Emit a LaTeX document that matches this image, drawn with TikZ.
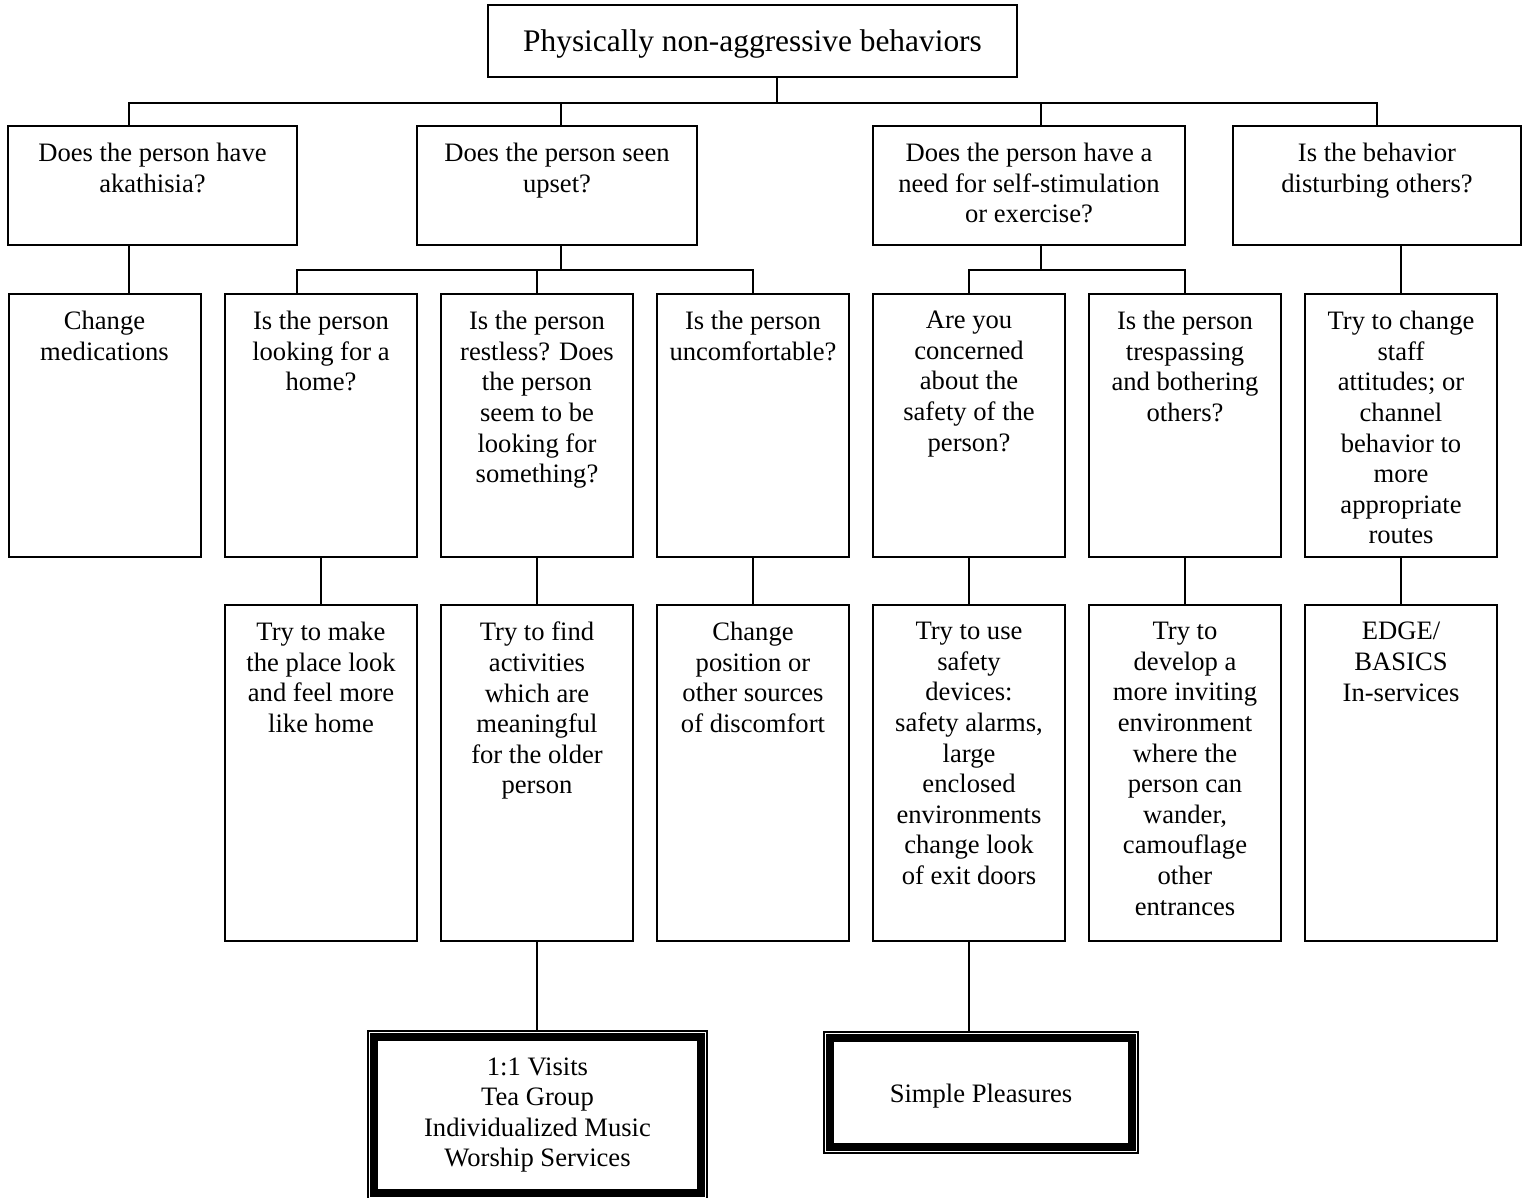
\documentclass[tikz,border=0pt]{standalone}
\usepackage{fontspec}
\setmainfont{Liberation Serif}
\usetikzlibrary{positioning}

\begin{document}
\begin{tikzpicture}[x=1pt, y=-1pt,
  box/.style={draw, line width=2pt, inner sep=0pt},
  qbox/.style={box, minimum width=192, minimum height=263},
  abox/.style={box, minimum width=192, minimum height=336},
  pbox/.style={draw, line width=1.2pt, inner sep=0pt, align=center,
               font=\fontsize{26.6}{30.6}\selectfont},
  txt/.style={align=center, inner sep=0pt, font=\fontsize{26.6}{30.6}\selectfont},
  wire/.style={line width=2pt}]
  \path[use as bounding box, fill=white] (0,0) rectangle (1528,1197);
  % top
  \node[box, minimum width=529, minimum height=72, text height=24pt, text depth=4pt,
        font=\fontsize{31.4}{36}\selectfont] (title) at (752.5,41)
        {Physically non-aggressive behaviors};
  % first questions
  \node[box, minimum width=289, minimum height=119] (akath) at (152.5,185.5) {};
  \node[txt, below=18pt of akath.north] {Does the person have\\akathisia?};
  \node[box, minimum width=280, minimum height=119] (upset) at (557,185.5) {};
  \node[txt, below=18pt of upset.north] {Does the person seen\\upset?};
  \node[box, minimum width=312, minimum height=119] (needs) at (1029,185.5) {};
  \node[txt, below=18pt of needs.north] {Does the person have a\\need for self-stimulation\\or exercise?};
  \node[box, minimum width=288, minimum height=119] (disturb) at (1377,185.5) {};
  \node[txt, below=18pt of disturb.north] {Is the behavior\\disturbing others?};
  % second row
  \foreach \n/\x/\t in {meds/104.5/{Change\\medications},
                        home/321/{Is the person\\looking for a\\home?},
                        restless/537/{Is the person\\restless? Does\\the person\\seem to be\\looking for\\something?},
                        uncomf/753/{Is the person\\uncomfortable?},
                        safety/969/{Are you\\concerned\\about the\\safety of the\\person?},
                        trespass/1185/{Is the person\\trespassing\\and bothering\\others?},
                        staff/1401/{Try to change\\staff\\attitudes; or\\channel\\behavior to\\more\\appropriate\\routes}}{
    \node[qbox] (\n) at (\x,425.5) {};
    \node[txt, below=18pt of \n.north] {\t};
  }
  % answers
  \foreach \n/\x/\t in {homelike/321/{Try to make\\the place look\\and feel more\\like home},
                        activity/537/{Try to find\\activities\\which are\\meaningful\\for the older\\person},
                        position/753/{Change\\position or\\other sources\\of discomfort},
                        devices/969/{Try to use\\safety\\devices:\\safety alarms,\\large\\enclosed\\environments\\change look\\of exit doors},
                        inviting/1185/{Try to\\develop a\\more inviting\\environment\\where the\\person can\\wander,\\camouflage\\other\\entrances},
                        edge/1401/{EDGE/\\BASICS\\In-services}}{
    \node[abox] (\n) at (\x,773) {};
    \node[txt, below=18pt of \n.north] {\t};
  }
  % programs
  \node[pbox, minimum width=339, minimum height=168] (visits) at (537.5,1115)
        {1:1 Visits\\Tea Group\\Individualized Music\\Worship Services};
  \node[pbox, minimum width=314, minimum height=121, text depth=0pt,
        text height=20pt] (pleasures) at (981,1092.5) {Simple Pleasures};
  \foreach \n in {visits, pleasures}
    \draw[line width=8pt] ([shift={(7,7)}]\n.north west) rectangle ([shift={(-7,-7)}]\n.south east);
  % connectors
  \draw[wire] ([xshift=24.5]title.south) -- ++(0,25);
  \draw[wire] ([xshift=-23.5]akath.north) |- ([xshift=24.5, yshift=-25]title.south) -| (disturb.north);
  \draw[wire] ([xshift=4]upset.north) -- ++(0,-23);
  \draw[wire] ([xshift=12]needs.north) -- ++(0,-23);
  \draw[wire] ([xshift=-23.5]akath.south) -- ++(0,49);
  \draw[wire] ([xshift=4]upset.south) -- ++(0,24) coordinate (b-bus);
  \draw[wire] ([xshift=-24]home.north) |- (b-bus) -| (uncomf.north);
  \draw[wire] (restless.north) -- (restless.north |- b-bus);
  \draw[wire] ([xshift=12]needs.south) -- ++(0,24) coordinate (c-bus);
  \draw[wire] (safety.north) |- (c-bus) -| (trespass.north);
  \draw[wire] ([xshift=24]disturb.south) -- (staff.north);
  \foreach \a/\b in {home/homelike, restless/activity, uncomf/position,
                     safety/devices, trespass/inviting, staff/edge}
    \draw[wire] (\a.south) -- (\b.north);
  \draw[wire] (activity.south) -- (activity.south |- visits.north);
  \draw[wire] (devices.south) -- (devices.south |- pleasures.north);
\end{tikzpicture}
\end{document}
